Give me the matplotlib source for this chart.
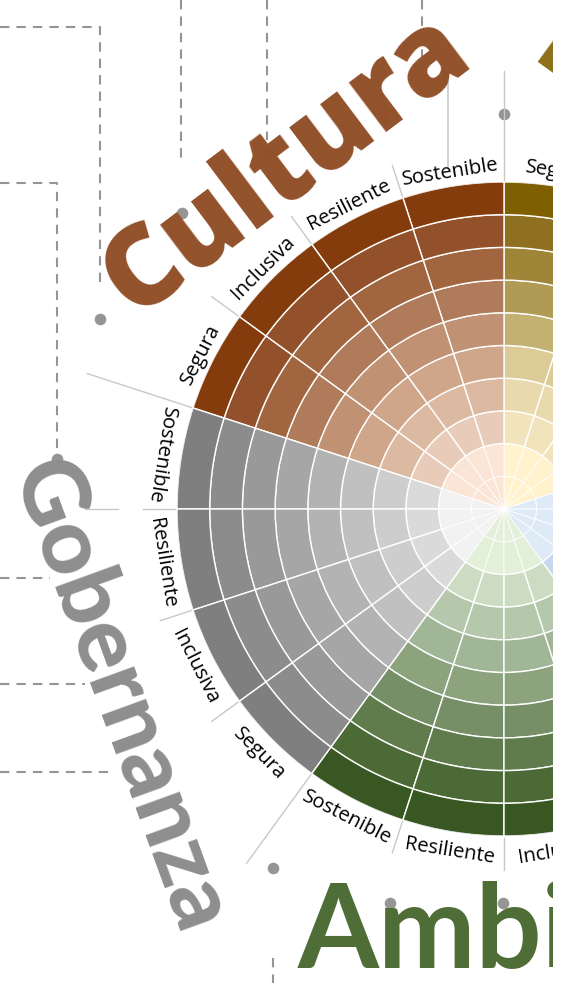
import numpy as np
import matplotlib
matplotlib.use("Agg")
import matplotlib.pyplot as plt
from matplotlib.patches import Rectangle

# ---------------- data ----------------
dimensions = ["Economía", "Cultura", "Gobernanza", "Ambiente", "Sociedad"]
dimension_start_deg = [18, 90, 162, 234, 306]
subcategories = ["Sostenible", "Resiliente", "Inclusiva", "Segura"]
ring_levels = [1, 2, 3, 4, 5, 6, 7, 8, 9, 10]          # 10 concentric levels
center_levels = 2                                      # innermost levels share the lightest tone

# shades from outermost ring to centre disk
shades = {
    "Economía":   ["#7F6000", "#8E7020", "#9F8538", "#B09B55", "#C3B172",
                   "#DCCA97", "#E9DAAE", "#F1E3BC", "#FFF2CC"],
    "Cultura":    ["#843C0C", "#92512A", "#A1663F", "#B07B5A", "#C09172",
                   "#CFA68A", "#DCBAA2", "#E8CCB9", "#FBE5D6"],
    "Gobernanza": ["#7F7F7F", "#8C8C8C", "#999999", "#A6A6A6", "#B3B3B3",
                   "#C0C0C0", "#CDCDCD", "#DADADA", "#F2F2F2"],
    "Ambiente":   ["#385723", "#4B6A36", "#607C4D", "#768F66", "#8CA37E",
                   "#A1B696", "#B6C8AC", "#CCDCC3", "#E2F0D9"],
    "Sociedad":   ["#1F4E79", "#30618F", "#4775A3", "#6189B5", "#7D9FC6",
                   "#9AB6D6", "#B3C9E2", "#C7D8EC", "#DEEBF7"],
}
title_colors = {"Cultura": "#92512A", "Gobernanza": "#8E8E8E",
                "Ambiente": "#4F6E37", "Economía": "#8E6F1A"}

# decorative dashed connectors / dots (pixel coordinates of the poster)
dashed_paths = [
    [(0, 27), (100, 27), (100, 285)],
    [(181, 0), (181, 158)],
    [(267, 0), (267, 140)],
    [(422, 0), (422, 60)],
    [(0, 183), (57, 183), (57, 452)],
    [(0, 578), (50, 578)],
    [(0, 684), (85, 684)],
    [(0, 772), (115, 772)],
    [(273, 958), (273, 983)],
]
dots = [(100, 319), (182, 213), (268, 153), (382, 117), (504, 114),
        (57, 459), (273, 868), (390, 903), (503, 903)]
solid_paths = [[(448, 70), (448, 168)]]

# ---------------- figure ----------------
W, H = 569, 983
fig = plt.figure(figsize=(W / 100, H / 100), dpi=100)
fig.patch.set_facecolor("white")

# background axes in pixel units
ax0 = fig.add_axes([0, 0, 1, 1], zorder=0)
ax0.set_xlim(0, W)
ax0.set_ylim(H, 0)
ax0.set_axis_off()

for path in dashed_paths:
    xs, ys = zip(*path)
    ax0.plot(xs, ys, color="#959595", lw=1.5, linestyle=(0, (4.5, 3.4)),
             solid_capstyle="butt", zorder=1)
for path in solid_paths:
    xs, ys = zip(*path)
    ax0.plot(xs, ys, color="#CACACA", lw=1.2, zorder=1)
dx, dy = zip(*dots)
ax0.scatter(dx, dy, s=70, color="#959595", zorder=2, linewidths=0)

heavy_family = ["Open Sans", "DejaVu Sans"]
ax0.text(304, 190, "Cultura", color=title_colors["Cultura"], fontsize=80,
         fontweight="heavy", family=heavy_family, rotation=37,
         rotation_mode="anchor", ha="center", va="baseline", zorder=3)
ax0.text(528, 61, "Economía", color=title_colors["Economía"], fontsize=80,
         fontweight="heavy", family=heavy_family, rotation=-36,
         rotation_mode="anchor", ha="left", va="baseline", zorder=3)
ax0.text(95, 706, "Gobernanza", color=title_colors["Gobernanza"], fontsize=66,
         fontweight="black", family=["Lato", "DejaVu Sans"], rotation=-70,
         rotation_mode="anchor", ha="center", va="baseline", zorder=3)
ax0.text(298, 968, "Ambiente", color=title_colors["Ambiente"], fontsize=84,
         fontweight="bold", family=["Lato", "DejaVu Sans"],
         ha="left", va="baseline", zorder=3)

# polar wheel
cx, cy, R = 504, 509, 327
ax = fig.add_axes([(cx - R) / W, (H - cy - R) / H, 2 * R / W, 2 * R / H],
                  projection="polar", zorder=1)
ax.set_ylim(0, len(ring_levels))
ax.set_axis_off()

sub_w = np.deg2rad(18)
for dim, start in zip(dimensions, dimension_start_deg):
    thetas = np.deg2rad(start + 9 + 18 * np.arange(len(subcategories)))
    for k, lev in enumerate(ring_levels):
        if k < center_levels:
            col = shades[dim][-1]
            lw = 0.6
        else:
            col = shades[dim][len(ring_levels) - 1 - k]
            lw = 1.0
        ax.bar(thetas, [1] * len(thetas), width=sub_w, bottom=lev - 1,
               color=col, edgecolor="white", linewidth=lw, align="center")

    # labels and separators
    for j, name in enumerate(subcategories):
        deg = start + 9 + 18 * j
        d = deg % 360
        if 162 < d < 342:
            rot = d + 90
            r_lab = 10.6
        else:
            rot = d - 90
            r_lab = 10.42
        ax.text(np.deg2rad(deg), r_lab, name, rotation=rot, rotation_mode="anchor",
                ha="center", va="center", fontsize=14.5,
                family=["Open Sans", "DejaVu Sans"], color="black", clip_on=False)
        b = np.deg2rad(start + 18 * j)
        r_end = 13.4 if j == 0 else 11.05
        ax.plot([b, b], [10.05, r_end], color="#C8C8C8", lw=1.0, clip_on=False, zorder=0.5)

# short extra separator beyond the Gobernanza labels
ax.plot([np.pi, np.pi], [11.8, 12.8], color="#C8C8C8", lw=1.0, clip_on=False)

# the poster is cropped on the right
fig.patches.append(Rectangle((553 / W, 0), 1 - 553 / W, 1, transform=fig.transFigure,
                             facecolor="white", edgecolor="none", zorder=10))

fig.savefig("out.png", dpi=100)
